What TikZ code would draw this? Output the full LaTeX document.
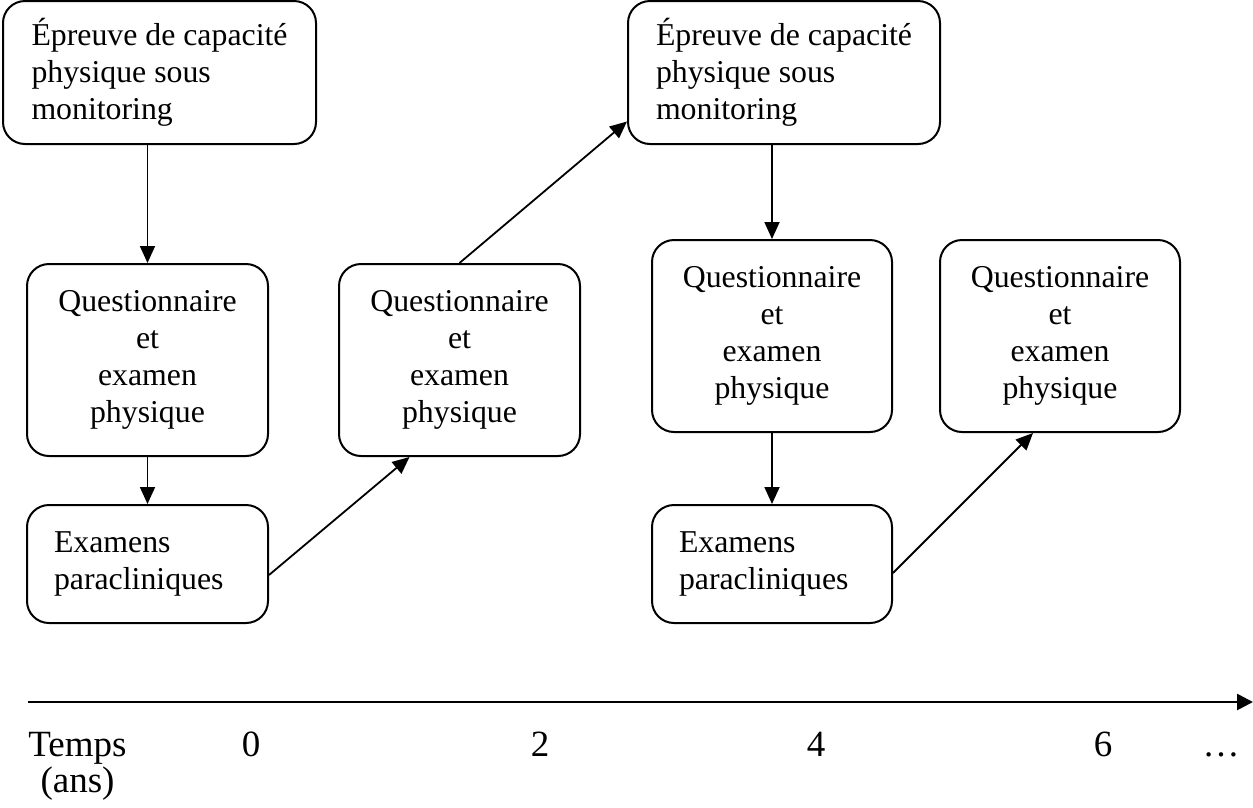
\documentclass[tikz,border=0pt]{standalone}
\usepackage{fontspec}
\setmainfont{Liberation Serif}
\usetikzlibrary{arrows.meta}

\begin{document}
\begin{tikzpicture}[x=1pt,y=-1pt]
    % ==========================
    % Réglages
    % ==========================
    \tikzset{
        box/.style={draw, rounded corners=22pt, line width=2pt, inner sep=0pt,
            font=\fontsize{31.8}{37}\selectfont}, % cadre arrondi
        ebox/.style={box, align=left}, % bloc à gauche, centré dans le cadre
        lbox/.style={box, align=left, inner xsep=27pt}, % texte à gauche
        cbox/.style={box, align=center}, % texte centré
        fleche/.style={line width=1.8pt, -{Triangle[length=17pt,width=15pt]}}, % flèche
        temps/.style={font=\fontsize{37}{36}\selectfont, anchor=base} % axe du temps
    }
    \useasboundingbox (0,0) rectangle (1253,807);

    % ==========================
    % 1. Visite à 0 an
    % ==========================
    \node[ebox, minimum width=313pt, minimum height=143pt] (E0) at (159.5,72.5)
        {Épreuve de capacité\\physique sous\\monitoring};
    \node[cbox, minimum width=241pt, minimum height=192pt] (Q0) at (147.5,360)
        {Questionnaire\\et\\examen\\physique};
    \node[lbox, text width=187pt, minimum width=241pt, minimum height=118pt] (X0) at (147.5,564)
        {Examens\\paracliniques};

    % ==========================
    % 2. Visite à 2 ans
    % ==========================
    \node[cbox, minimum width=241pt, minimum height=192pt] (Q2) at (459.5,360)
        {Questionnaire\\et\\examen\\physique};

    % ==========================
    % 3. Visite à 4 ans
    % ==========================
    \node[ebox, minimum width=312pt, minimum height=143pt] (E4) at (784,72.5)
        {Épreuve de capacité\\physique sous\\monitoring};
    \node[cbox, minimum width=240pt, minimum height=192pt] (Q4) at (772,336)
        {Questionnaire\\et\\examen\\physique};
    \node[lbox, text width=186pt, minimum width=240pt, minimum height=118pt] (X4) at (772,564)
        {Examens\\paracliniques};

    % ==========================
    % 4. Visite à 6 ans
    % ==========================
    \node[cbox, minimum width=240pt, minimum height=192pt] (Q6) at (1060,336)
        {Questionnaire\\et\\examen\\physique};

    % Flèches entre les étapes
    \draw[fleche] (E0.south -| Q0.north) -- (Q0.north);
    \draw[fleche] (Q0.south) -- (X0.north);
    \draw[fleche] ([yshift=-11pt]X0.east) -- ([xshift=-50pt]Q2.south);
    \draw[fleche] (Q2.north) -- ([yshift=-49pt]E4.west);
    \draw[fleche] (E4.south -| Q4.north) -- (Q4.north);
    \draw[fleche] (Q4.south) -- (X4.north);
    \draw[fleche] ([yshift=-9pt]X4.east) -- ([xshift=-27pt]Q6.south);

    % ==========================
    % 5. Axe du temps
    % ==========================
    \coordinate (t0) at (28,702);
    \coordinate (t1) at (1253,702);
    \draw[line width=2.6pt, -{Triangle[length=16pt,width=16pt]}] (t0) -- (t1);

    % base = ligne du bas pour un texte sur deux lignes
    \node[temps, align=center] (tps) at (77.5,792) {Temps\\(ans)};
    \node[temps] (a0) at (251,756) {0};
    \node[temps] (a2) at (540,756) {2};
    \node[temps] (a4) at (816,756) {4};
    \node[temps] (a6) at (1103,756) {6};
    \node[temps] (etc) at (1221,756) {…};

\end{tikzpicture}
\end{document}
